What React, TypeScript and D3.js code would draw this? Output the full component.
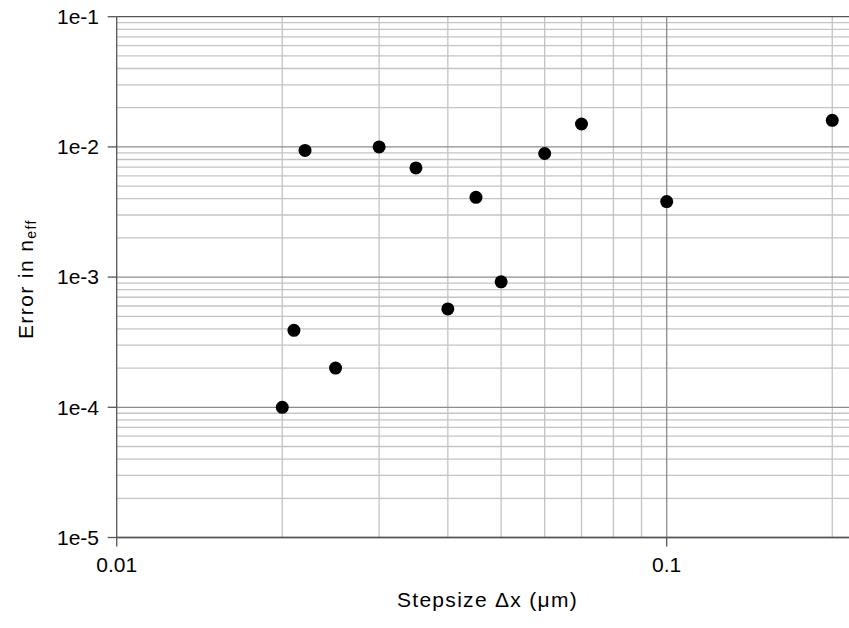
import React from "react";
import * as d3 from "d3";

const stepsize = [0.02, 0.021, 0.022, 0.025, 0.03, 0.035, 0.04, 0.045, 0.05, 0.06, 0.07, 0.1, 0.2];
const errorNeff = [1e-4, 3.9e-4, 9.4e-3, 2e-4, 1e-2, 6.9e-3, 5.7e-4, 4.1e-3, 9.2e-4, 8.9e-3, 1.5e-2, 3.8e-3, 1.6e-2];
const yTickValues = [1e-5, 1e-4, 1e-3, 1e-2, 1e-1];
const yTickLabels = ["1e-5", "1e-4", "1e-3", "1e-2", "1e-1"];
const xTickValues = [0.01, 0.1];
const xTickLabels = ["0.01", "0.1"];

const W = 849;
const H = 628;
const left = 116.7;
const top = 16.7;
const bottom = 537.5;
const decadeX = 550;

export default function App() {
  const x = d3.scaleLog().domain([0.01, 0.1]).range([left, left + decadeX]);
  const y = d3.scaleLog().domain([1e-5, 1e-1]).range([bottom, top]);
  const right = W;
  const xMax = x.invert(right);

  const yMinor: number[] = [];
  for (let e = -5; e < -1; e++) {
    for (let k = 2; k <= 9; k++) yMinor.push(k * Math.pow(10, e));
  }
  const xMinor: number[] = [];
  for (let e = -2; e < 0; e++) {
    for (let k = 2; k <= 9; k++) {
      const v = k * Math.pow(10, e);
      if (v <= xMax) xMinor.push(v);
    }
  }
  const font = "'Liberation Sans', Arial, sans-serif";
  const minorColor = "#c4c4c4";
  const majorColor = "#8c8c8c";
  const axisColor = "#555555";

  return (
    <svg width={W} height={H} style={{ position: "absolute", left: 0, top: 0, background: "#fff" }}>
      <rect x={0} y={0} width={W} height={H} fill="#fff" />
      <g>
        {yMinor.map((v, i) => (
          <line key={"ym" + i} x1={left} x2={right} y1={y(v)} y2={y(v)} stroke={minorColor} strokeWidth={1.3} />
        ))}
        {xMinor.map((v, i) => (
          <line key={"xm" + i} x1={x(v)} x2={x(v)} y1={top} y2={bottom} stroke={minorColor} strokeWidth={1.3} />
        ))}
        {yTickValues.map((v, i) => (
          <line key={"yM" + i} x1={left} x2={right} y1={y(v)} y2={y(v)} stroke={i === yTickValues.length - 1 ? axisColor : majorColor} strokeWidth={1.3} />
        ))}
        {xTickValues.slice(1).map((v, i) => (
          <line key={"xM" + i} x1={x(v)} x2={x(v)} y1={top} y2={bottom} stroke={majorColor} strokeWidth={1.3} />
        ))}
      </g>
      <line x1={left} x2={left} y1={top} y2={bottom} stroke={axisColor} strokeWidth={1.3} />
      <line x1={left} x2={right} y1={bottom} y2={bottom} stroke={axisColor} strokeWidth={1.3} />
      {yTickValues.map((v, i) => (
        <g key={"yt" + i}>
          <line x1={left - 9} x2={left} y1={y(v)} y2={y(v)} stroke={axisColor} strokeWidth={1.3} />
          <text x={99} y={y(v)} dy="0.35em" textAnchor="end" fontFamily={font} fontSize={21} fill="#000">
            {yTickLabels[i]}
          </text>
        </g>
      ))}
      {xTickValues.map((v, i) => (
        <g key={"xt" + i}>
          <line x1={x(v)} x2={x(v)} y1={bottom} y2={bottom + 9} stroke={axisColor} strokeWidth={1.3} />
          <text x={x(v)} y={572} textAnchor="middle" fontFamily={font} fontSize={21} fill="#000">
            {xTickLabels[i]}
          </text>
        </g>
      ))}
      {stepsize.map((v, i) => (
        <circle key={"p" + i} cx={x(v)} cy={y(errorNeff[i])} r={6.5} fill="#000" />
      ))}
      <text x={487.5} y={607} textAnchor="middle" fontFamily={font} fontSize={21} letterSpacing={1.3} fill="#000">
        Stepsize Δx (μm)
      </text>
      <text transform={`translate(33, ${(top + bottom) / 2 + 2}) rotate(-90)`} textAnchor="middle" fontFamily={font} fontSize={21} letterSpacing={1.4} fill="#000">
        Error in n
        <tspan fontSize={14} dy={3}>eff</tspan>
      </text>
    </svg>
  );
}
